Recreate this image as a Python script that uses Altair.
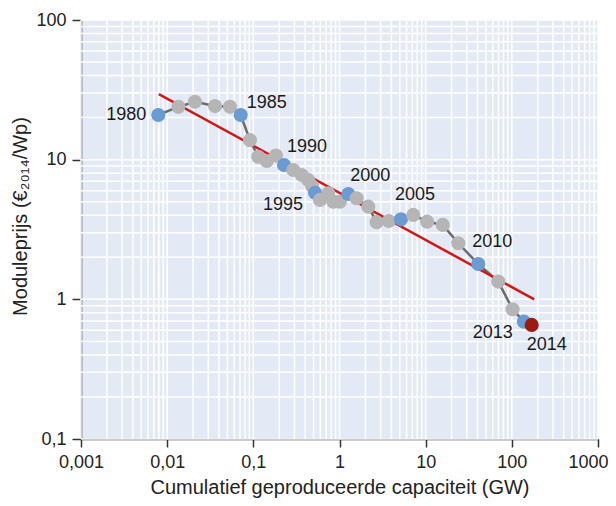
import altair as alt
import pandas as pd

# ---- data ----
years = list(range(1980, 2015))
capacity_gw = [0.00789, 0.0135, 0.0210, 0.0359, 0.0536, 0.0713, 0.0914, 0.114, 0.143, 0.183,
               0.227, 0.291, 0.364, 0.434, 0.480, 0.520, 0.594, 0.741, 0.847, 1.01,
               1.265, 1.58, 2.16, 2.70, 3.73, 5.17, 7.18, 10.4, 15.8, 23.9,
               40.8, 69.6, 102, 138, 170]
price_eur_wp = [20.9, 23.9, 26.0, 24.2, 23.9, 20.9, 13.8, 10.5, 9.79, 10.7,
                9.16, 8.44, 7.77, 7.16, 6.48, 5.80, 5.15, 5.75, 5.00, 5.00,
                5.68, 5.29, 4.61, 3.57, 3.64, 3.74, 4.02, 3.60, 3.41, 2.52,
                1.79, 1.34, 0.849, 0.692, 0.656]
highlight_years = [1980, 1985, 1990, 1995, 2000, 2005, 2010, 2013]
latest_year = 2014
trend_capacity = [0.008, 182]
trend_price = [29.5, 1.0]
x_ticks = [0.001, 0.01, 0.1, 1, 10, 100, 1000]
y_ticks = [0.1, 1, 10, 100]

kind = ["latest" if y == latest_year else ("highlight" if y in highlight_years else "other")
        for y in years]
df = pd.DataFrame({"year": years, "cap": capacity_gw, "price": price_eur_wp, "kind": kind})
trend_df = pd.DataFrame({"cap": trend_capacity, "price": trend_price})

grid_x = [m * d for d in x_ticks[:-1] for m in range(1, 10)] + [x_ticks[-1]]
grid_y = [m * d for d in y_ticks[:-1] for m in range(1, 10)] + [y_ticks[-1]]

FONT = "Liberation Sans"
FS = 18
TFS = 20
xs = alt.Scale(type="log", domain=[0.001, 1000])
ys = alt.Scale(type="log", domain=[0.1, 100])
label_expr = "replace(toString(datum.value), '.', ',')"

x_axis = alt.Axis(
    values=x_ticks, labelExpr=label_expr, grid=False, tickSize=8, tickWidth=1.5,
    tickColor="#333333", domainColor="#333333", domainWidth=1.5, labelFlush=False,
    labelAlign={"condition": {"test": "datum.value >= 1000", "value": "right"}, "value": "center"},
    labelOffset={"condition": {"test": "datum.value >= 1000", "value": 10}, "value": 0},
    labelFontSize=FS, labelFont=FONT, labelColor="#222222", labelPadding=6,
    title="Cumulatief geproduceerde capaciteit (GW)", titleFont=FONT, titleFontSize=TFS,
    titleFontWeight="normal", titleColor="#222222", titlePadding=6)
y_axis = alt.Axis(
    values=y_ticks, labelExpr=label_expr, grid=False, tickSize=9, tickWidth=1.5,
    tickColor="#333333", domainColor="#333333", domainWidth=1.5, labelFlush=False,
    labelFontSize=FS, labelFont=FONT, labelColor="#222222", labelPadding=6,
    title="Moduleprijs (€₂₀₁₄/Wp)", titleFont=FONT, titleFontSize=TFS,
    titleFontWeight="normal", titleColor="#222222", titlePadding=5, titleY=196)

X = alt.X("cap:Q", scale=xs, axis=x_axis)
Y = alt.Y("price:Q", scale=ys, axis=y_axis)

grid_v = alt.Chart(pd.DataFrame({"cap": grid_x})).mark_rule(color="white", strokeWidth=1.5).encode(x=X)
grid_h = alt.Chart(pd.DataFrame({"price": grid_y})).mark_rule(color="white", strokeWidth=1.5).encode(y=Y)

base = alt.Chart(df)
line = base.mark_line(color="#6b6b6b", strokeWidth=2.5).encode(x=X, y=Y, order="year:Q")

trend = alt.Chart(trend_df).mark_line(color="#d01818", strokeWidth=2.5).encode(x=X, y=Y)

points = base.mark_circle(size=200, opacity=1).encode(
    x=X, y=Y,
    color=alt.Color("kind:N", scale=alt.Scale(domain=["other", "highlight", "latest"],
                                              range=["#b5b5b5", "#6a9bd2", "#9c1a12"]),
                    legend=None))

# label placement (style, not data)
label_style = {
    1980: ("right", -12, 0),
    1985: ("left", 6, -12),
    1990: ("left", 3, -18),
    1995: ("right", -12, 12),
    2000: ("left", 2, -18),
    2005: ("left", -6, -24),
    2010: ("left", -6, -22),
    2013: ("right", -11, 11),
    2014: ("left", -5, 20),
}
labels = []
for yr, (al, dx, dy) in label_style.items():
    labels.append(base.transform_filter(alt.datum.year == yr).mark_text(
        align=al, baseline="middle", dx=dx, dy=dy, font=FONT, fontSize=FS, color="#1a1a1a").encode(
        x=X, y=Y, text="year:N"))

chart = alt.layer(grid_v, grid_h, line, trend, points, *labels).properties(
    width=517, height=419,
    padding={"left": 73, "top": 12, "right": 10, "bottom": 59},
    autosize=alt.AutoSizeParams(type="none"),
).configure_view(fill="#e4eaf5", strokeWidth=0)

chart.save("out.html", embed_options={"renderer": "svg", "actions": False})
